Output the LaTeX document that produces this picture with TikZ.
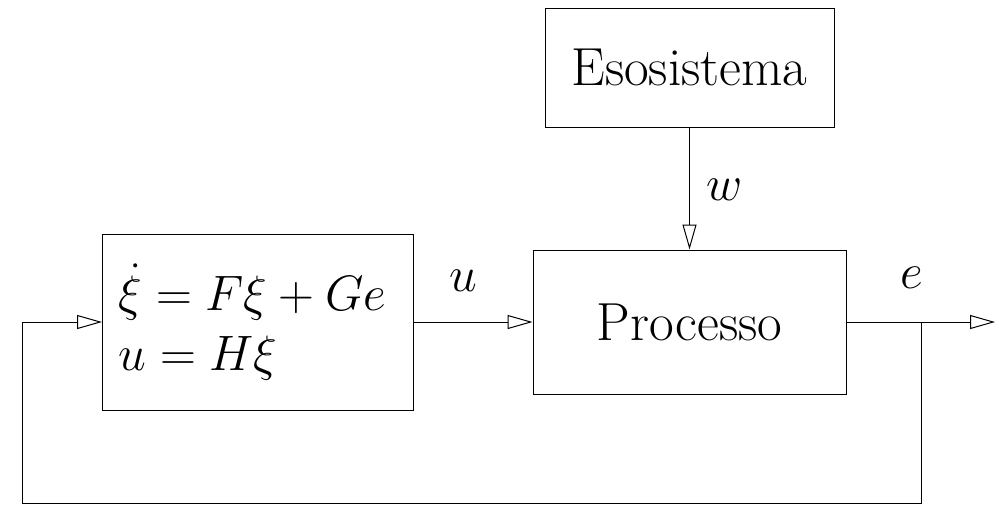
\documentclass[tikz,border=0pt]{standalone}
\usepackage{amsmath,amssymb}
\usepackage{tikz}
\usetikzlibrary{positioning,arrows.meta,calc}

\begin{document}
\begin{tikzpicture}[
          x=0.5pt, y=-0.5pt,
          block/.style={draw, line width=0.5pt, inner sep=0pt, font=\fontsize{26.8pt}{32pt}\selectfont},
          arr/.style={-{Triangle[open, length=12.5pt, width=7pt]}, line width=0.5pt},
          lab/.style={font=\Huge, inner sep=0pt}
      ]
        \useasboundingbox (0,0) rectangle (999,505);
        \node[block, minimum width=144.5pt, minimum height=59.5pt] (eso) at (689.5,67.5) {Esosistema};
        \node[block, minimum width=156.5pt, minimum height=72pt] (proc) at (689.5,322) {Processo};
        \node[block, font=\Huge, minimum width=155.5pt, minimum height=88pt, inner xsep=8pt, text width=139.5pt, align=left] (ctrl) at (258,322)
          {$\dot{\xi} = F\xi + Ge$\\ $u = H\xi$};
        \coordinate (branch) at (921,322);
        \coordinate (out) at (995,322);
        \coordinate (fb) at (22,503);
        \draw[arr] (eso.south) -- (proc.north);
        \draw[arr] (ctrl.east) -- (proc.west);
        \draw[arr] (proc.east) -- (out);
        \draw[arr] (branch) |- (fb) |- (ctrl.west);
        \node[lab] (wlab) at (725,190) {$w$};
        \node[lab] (ulab) at (463,281) {$u$};
        \node[lab] (elab) at (912,278) {$e$};
      \end{tikzpicture}
\end{document}
